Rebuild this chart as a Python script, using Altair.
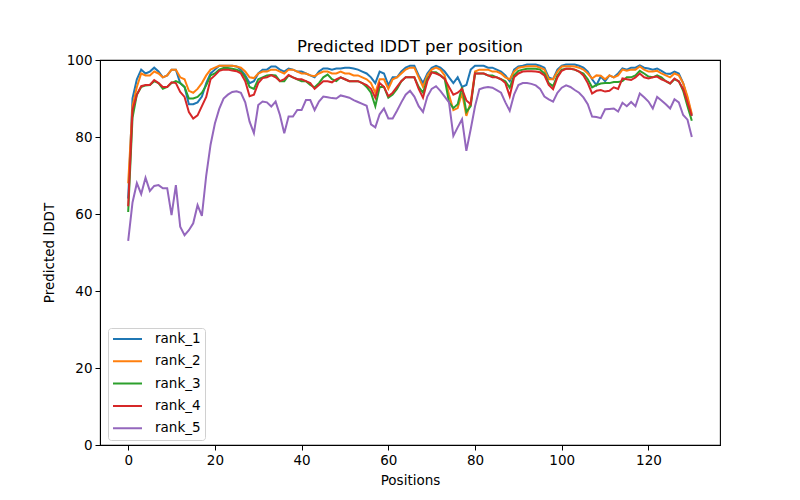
import altair as alt
import pandas as pd

positions = list(range(131))

rank_1 = [64, 90, 95, 97.5, 96.5, 97, 98, 97, 95.5, 96,
          97.5, 97.5, 94, 93, 88.5, 88.5, 89, 90.5, 94, 96.5,
          97.5, 98.5, 98.5, 98.5, 98.5, 98.3, 97.5, 96, 94, 94.5,
          96.5, 97.5, 97.5, 98.3, 98.3, 97.5, 97, 97.8, 97.5, 97,
          97, 96.5, 96, 95.5, 97, 97.8, 97.8, 97.5, 97.8, 97.8,
          98, 98, 97.8, 97.5, 97, 96.5, 95.5, 94, 97, 96.5,
          93.5, 95.5, 95.5, 97, 98, 98.5, 98.5, 96, 94, 96.5,
          98, 98.5, 98, 97, 95.5, 94, 95.5, 93, 93.5, 97.5,
          98.5, 98.5, 98.5, 98, 98, 97.5, 97, 96, 94.5, 97.5,
          98.3, 98.5, 98.8, 98.8, 98.8, 98.5, 98, 95.5, 95, 97.5,
          98.5, 98.8, 98.8, 98.8, 98.5, 98, 97, 95, 93.5, 95.7,
          94.5, 96, 95.5, 96.5, 97.8, 97.5, 98, 98, 98.6, 98,
          97.8, 97.5, 97.8, 97.2, 96.5, 96.4, 97, 96.5, 94, 90,
          85.5]

rank_2 = [68, 88, 93, 96.5, 96, 96, 97, 96.5, 95.5, 96,
          97.5, 97.5, 95.5, 95, 92, 91.5, 92.5, 94, 96, 97.5,
          98, 98.5, 98.5, 98.5, 98.5, 98.3, 98, 97, 95.5, 95.3,
          96.5, 97, 97, 97.5, 97.5, 97, 96.5, 97.5, 97.5, 97,
          96.5, 96.5, 96, 95.8, 96.5, 97, 97, 96.5, 96.5, 97,
          96.5, 96.5, 96, 96, 95.5, 95, 94, 91.5, 95, 95,
          92.5, 95, 95.5, 96.5, 97.5, 98, 98, 95.5, 93, 96,
          97.5, 98, 97.5, 96, 91, 87, 87.5, 91.5, 85.5, 89,
          97, 97.5, 97.5, 97.5, 97, 97, 96.5, 95.5, 95, 97,
          98, 98.2, 98.4, 98.4, 98.4, 98, 97.5, 95, 95, 97,
          98.3, 98.4, 98.4, 98.3, 98, 97.5, 96.5, 95.2, 96, 95.9,
          95, 96, 95.5, 96, 97.5, 97.2, 97.5, 97.5, 98.3, 97.5,
          97, 97, 97.2, 96.5, 96, 95.5, 96.5, 96, 94, 90.5,
          86]

rank_3 = [60.5, 85, 91, 93, 93.4, 93.5, 94.5, 94, 92.5, 93,
          94, 94.5, 94, 93, 90, 90, 90.4, 91.5, 93.4, 96,
          96.5, 97.5, 97.9, 97.9, 97.7, 97.5, 97, 95.5, 93, 92.5,
          95, 95.5, 96, 96.1, 96, 94.5, 94.5, 96, 95.5, 95,
          94.5, 94.5, 93.5, 92.9, 94, 95.5, 96.2, 95, 94.5, 95.5,
          95, 94.5, 94.5, 94.5, 94, 93, 91.5, 88, 93, 93,
          90.2, 91, 92.5, 94.5, 95.5, 95.5, 95.5, 93, 91.5, 95,
          96.8, 96.8, 96, 95.1, 89, 87.5, 88.5, 93, 86.5, 88,
          96.5, 96.5, 96.5, 96, 96, 95.5, 95, 94.5, 92.8, 96,
          97.2, 97.5, 97.7, 97.7, 97.7, 97.5, 96.5, 94, 93.2, 96,
          97.5, 97.7, 97.7, 97.5, 97, 96.5, 95, 92.9, 93.5, 93.9,
          94, 94, 94.3, 94.3, 94.5, 95.5, 95.5, 96, 97.2, 96.5,
          95.7, 95.5, 96, 95.5, 94.5, 93.9, 95, 94.5, 92, 88,
          84.2]

rank_4 = [62, 87, 91, 93.2, 93.5, 93.5, 94.8, 94, 93, 93,
          94.2, 94, 91.7, 90.4, 86.5, 84.8, 85.6, 88, 90.4, 95,
          96, 97.2, 97.5, 97.5, 97.3, 97.1, 96.5, 94.5, 90.6, 91,
          94, 95.3, 95.5, 96.1, 95.5, 94.5, 95, 96.1, 95.5, 95,
          95, 94.5, 94, 92.5, 93.5, 94.5, 94.5, 94.2, 95, 95.5,
          95, 94.5, 94.5, 94.5, 94, 93.5, 92.5, 90.2, 94, 93,
          90.6, 91.5, 93, 94.5, 95.5, 95.5, 95.5, 92.5, 90.2, 94.5,
          96.8, 96.5, 96, 95.1, 93, 91, 91.5, 92.5, 89.5, 88.5,
          96.5, 96.5, 96.5, 96, 95.5, 95.5, 95, 94, 90.6, 95.5,
          96.5, 97, 97.1, 97.1, 97, 96.8, 96, 93.5, 92.4, 95.5,
          97.2, 97.7, 97.7, 97.5, 97, 96, 94, 91.3, 92, 92.2,
          91.8, 92, 92.9, 92.5, 95.2, 95, 94.8, 95.5, 96.5, 95.5,
          95.2, 95.5, 95.7, 95, 94.5, 93.9, 95.2, 94.4, 92.5, 89,
          85.5]

rank_5 = [53, 63, 68, 65.2, 69.4, 66, 67.3, 67.5, 66.7, 66.7,
          59.7, 67.5, 56.7, 54.5, 55.8, 57.6, 62.3, 59.5, 70, 78,
          83.5, 87.3, 90, 91, 91.7, 91.9, 91.5, 89, 84, 81,
          88.3, 89.2, 89, 87.9, 89.2, 85.7, 81, 85.3, 85.3, 87,
          87, 89.6, 89.6, 87, 89.2, 90.5, 90.3, 90.1, 90, 90.8,
          90.5, 90.2, 89.6, 89.1, 88.6, 88.1, 83.3, 82.5, 85.9, 87.4,
          84.8, 84.8, 86.8, 89, 91, 92, 90.5, 88, 86.5, 90.5,
          92.5, 93.2, 92, 90.5, 89, 80.3, 82.5, 84.6, 76.4, 82,
          88, 92.4, 92.8, 93, 92.8, 92.2, 91.5, 89, 86.8, 91,
          93.5, 94, 94, 93.8, 93.4, 92.5, 90.5, 89.8, 89.2, 91.5,
          92.8, 93.4, 93, 92.2, 91.5, 90.3, 88.5, 85.3, 85.2, 84.9,
          87.2, 87.3, 87.4, 86.6, 88.9, 88, 89.1, 88, 91.3, 90.3,
          89.2, 87.4, 90.4, 89.5, 88.5, 87.4, 89.8, 89, 85.7, 84.5,
          80]

series_names = ["rank_1", "rank_2", "rank_3", "rank_4", "rank_5"]
series_values = [rank_1, rank_2, rank_3, rank_4, rank_5]
colors = ["#1f77b4", "#ff7f0e", "#2ca02c", "#d62728", "#9467bd"]

rows = []
for name, vals in zip(series_names, series_values):
    for p, v in zip(positions, vals):
        rows.append({"pos": p, "lddt": v, "model": name})
df = pd.DataFrame(rows)

FONT = "DejaVu Sans"

chart = alt.Chart(df).mark_line(strokeWidth=2, clip=True).encode(
    x=alt.X("pos:Q", title="Positions",
            scale=alt.Scale(domain=[-6.5, 136.5], nice=False, zero=False),
            axis=alt.Axis(values=[0, 20, 40, 60, 80, 100, 120], grid=False,
                          tickSize=5, tickColor="black", domainColor="black",
                          labelFontSize=13.5, titleFontSize=13.5, labelColor="black",
                          titleColor="black", titleFontWeight="normal", labelPadding=3,
                          titlePadding=7, labelFont=FONT, titleFont=FONT)),
    y=alt.Y("lddt:Q", title="Predicted lDDT",
            scale=alt.Scale(domain=[0, 100], nice=False),
            axis=alt.Axis(values=[0, 20, 40, 60, 80, 100], grid=False,
                          tickSize=5, tickColor="black", domainColor="black",
                          labelFontSize=13.5, titleFontSize=13.5, labelColor="black",
                          titleColor="black", titleFontWeight="normal", labelPadding=3,
                          titlePadding=10, labelFont=FONT, titleFont=FONT)),
    color=alt.Color("model:N", scale=alt.Scale(domain=series_names, range=colors),
                    legend=alt.Legend(title=None, orient="none", legendX=8, legendY=268,
                                      symbolType="stroke", symbolSize=841, symbolStrokeWidth=2,
                                      clipHeight=14, rowPadding=8.3,
                                      labelFontSize=13.5, labelFont=FONT, labelColor="black",
                                      labelOffset=12,
                                      fillColor="white", strokeColor="#d0d0d0",
                                      cornerRadius=3, padding=4)),
    order=alt.Order("pos:Q"),
).properties(
    width=620, height=385,
    title=alt.TitleParams("Predicted lDDT per position", fontSize=16.5, font=FONT,
                          fontWeight="normal", color="black", offset=-2),
    padding={"left": 92, "top": 52, "right": 72, "bottom": 47},
    autosize=alt.AutoSizeParams(type="none"),
).configure(
    background="white",
    view=alt.ViewConfig(stroke="black", strokeWidth=1.1),
)

chart.save("out.html", embed_options={"renderer": "svg", "actions": False})
